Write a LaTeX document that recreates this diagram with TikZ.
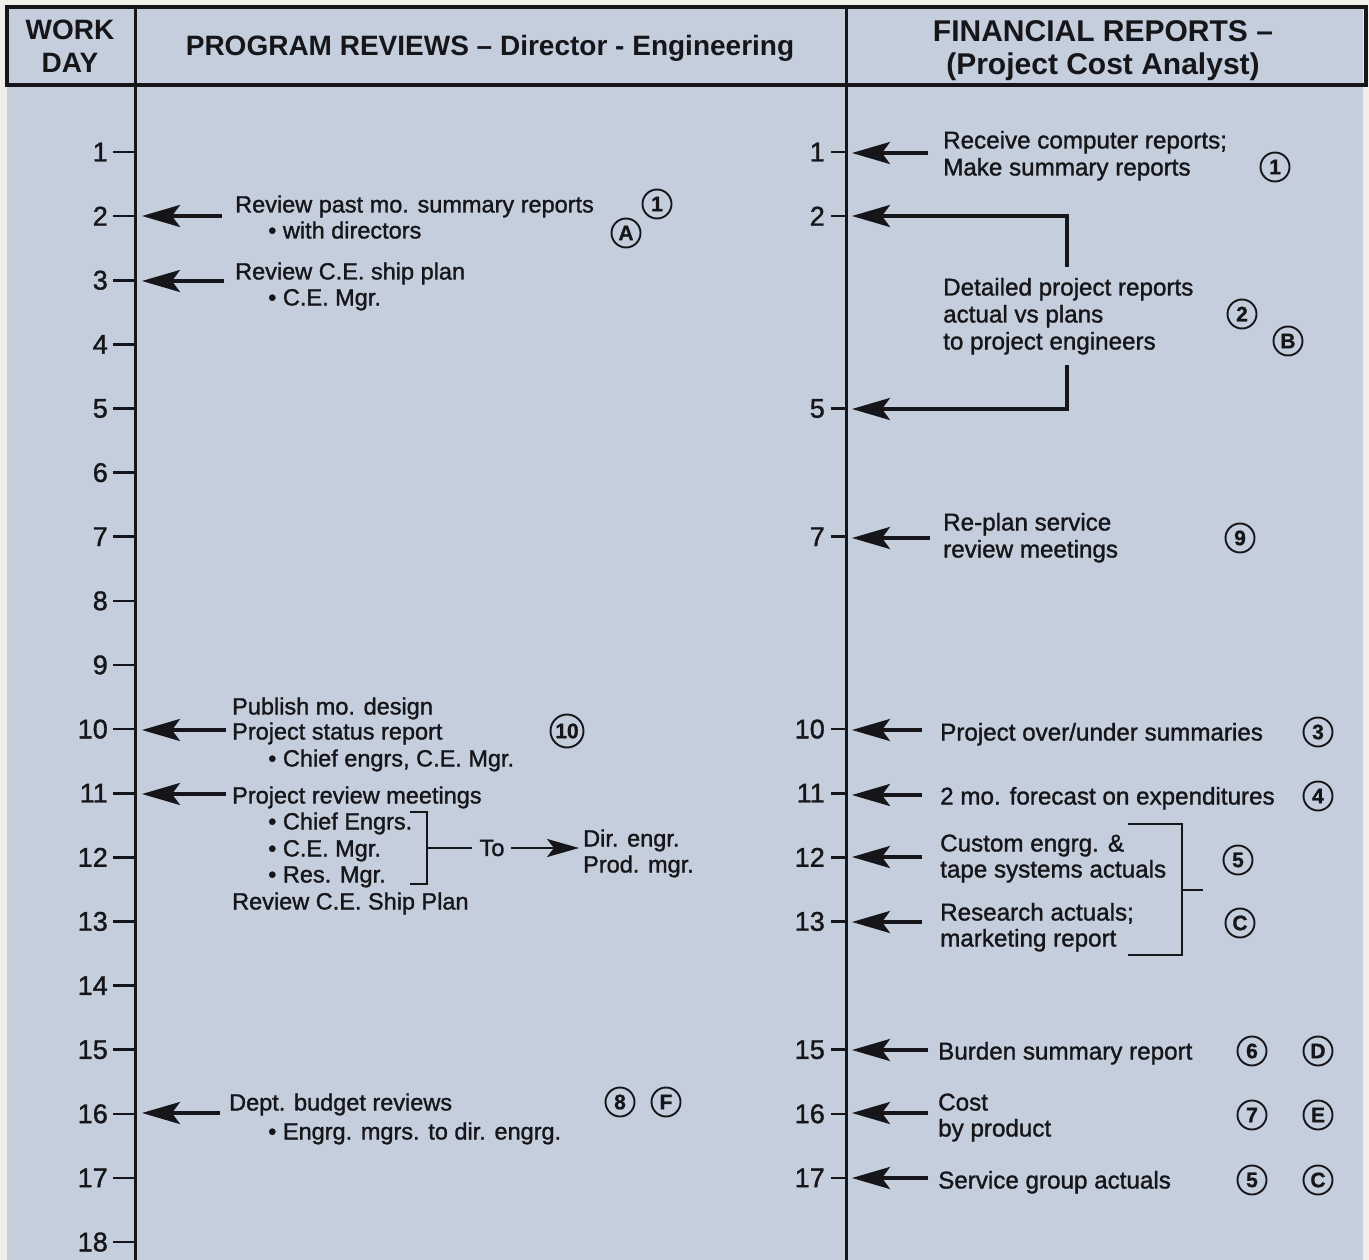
\documentclass[tikz,border=0pt]{standalone}
\usepackage{fontspec}
\setmainfont{Liberation Sans}
\newfontfamily\medfont[FakeBold=1.3]{Liberation Sans}
\newfontfamily\circfont[FakeBold=1.0]{Liberation Sans Bold}
\usetikzlibrary{arrows.meta}
\definecolor{bgblue}{RGB}{196,206,220}
\definecolor{paper}{RGB}{241,239,234}
\definecolor{ink}{RGB}{22,22,26}
\tikzset{
  hdr/.style={text=ink, align=center, inner sep=0pt, font=\bfseries\fontsize{28}{33}\selectfont},
  hdrwide/.style={hdr, font=\bfseries\fontsize{30}{33}\selectfont},
  body/.style={text=ink, inner sep=0pt, anchor=base west, font=\medfont\fontsize{23.5}{26}\selectfont},
  bodyr/.style={body, font=\medfont\fontsize{24.2}{26}\selectfont},
  daynum/.style={text=ink, inner sep=0pt, anchor=east, font=\medfont\fontsize{27}{27}\selectfont},
  circ/.style={circle, draw=ink, line width=1.9pt, minimum size=29pt, inner sep=0pt, text=ink, font=\circfont\fontsize{21}{21}\selectfont},
  circwide/.style={circ, minimum size=33pt},
  tick/.style={draw=ink, line width=2.6pt},
  rule/.style={draw=ink, line width=3pt},
  brk/.style={draw=ink, line width=2.4pt},
  arr/.style={draw=ink, line width=3.2pt, -{Stealth[length=38pt, width=22pt, inset=8pt]}},
  rarr/.style={draw=ink, line width=2.6pt, -{Stealth[length=32pt, width=18pt, inset=7pt]}},
}
\newcommand\tx[4]{\node[body] (#1) at (#2,#3+8.5) {#4};}
\newcommand\txr[4]{\node[bodyr] (#1) at (#2,#3+8.5) {#4};}
\begin{document}
\begin{tikzpicture}[x=1pt,y=-1pt]
\useasboundingbox (0,0) rectangle (1369,1260);
\fill[paper] (0,0) rectangle (1369,1260);
\fill[bgblue] (7,7) rectangle (1363,1260);
% header box and column rules
\draw[ink, line width=3.5pt] (7,7) rectangle (1366,85);
\draw[rule] (135,7) -- (135,1260);
\draw[rule] (846,7) -- (846,1260);
\node[hdr] (hwork) at (70,46) {WORK\\DAY};
\node[hdr] (hprog) at (490,48) {PROGRAM REVIEWS -- Director - Engineering};
\node[hdrwide] (hfin) at (1103,51) {FINANCIAL REPORTS --\\(Project Cost Analyst)};
% day scales
\foreach \n in {1,...,18}{
  \pgfmathsetmacro\yy{152+(\n-1)*64.12}
  \draw[tick] (113,\yy) -- (135,\yy);
  \node[daynum] (dl\n) at (108,\yy) {\n};
}
\foreach \n in {1,2,5,7,10,11,12,13,15,16,17}{
  \pgfmathsetmacro\yy{152+(\n-1)*64.12}
  \draw[tick] (831,\yy) -- (846,\yy);
  \node[daynum] (dr\n) at (825,\yy) {\n};
}
% ---------------- left column ----------------
\coordinate (aL2s) at (222,216); \coordinate (aL2e) at (142,216);
\draw[arr] (aL2s) -- (aL2e);
\tx{tL2a}{235}{204}{Review past mo. summary reports}
\tx{tL2b}{268}{230}{• with directors}
\node[circ] (cL1) at (657,204) {1};
\node[circ] (cLA) at (626,233) {A};

\coordinate (aL3s) at (224,281); \coordinate (aL3e) at (142,281);
\draw[arr] (aL3s) -- (aL3e);
\tx{tL3a}{235}{271}{Review C.E. ship plan}
\tx{tL3b}{268}{297}{• C.E. Mgr.}

\coordinate (aL10s) at (226,730); \coordinate (aL10e) at (142,730);
\draw[arr] (aL10s) -- (aL10e);
\tx{tL10a}{232}{706}{Publish mo. design}
\tx{tL10b}{232}{731}{Project status report}
\tx{tL10c}{268}{758}{• Chief engrs, C.E. Mgr.}
\node[circwide] (cL10) at (567,731) {10};

\coordinate (aL11s) at (226,794); \coordinate (aL11e) at (142,794);
\draw[arr] (aL11s) -- (aL11e);
\tx{tL11a}{232}{795}{Project review meetings}
\tx{tL11b}{268}{821}{• Chief Engrs.}
\tx{tL11c}{268}{848}{• C.E. Mgr.}
\tx{tL11d}{268}{874}{• Res. Mgr.}
\tx{tL11e}{232}{901}{Review C.E. Ship Plan}
\coordinate (bLt) at (410,812); \coordinate (bLb) at (410,884); \coordinate (bLm) at (427,848);
\draw[brk] (bLt) -- (427,812) -- (427,884) -- (bLb);
\node[body, anchor=center] (tTo) at (492,848) {To};
\draw[brk, shorten >=7pt] (bLm) -- (tTo.west);
\coordinate (aTos) at (511,848); \coordinate (aToe) at (579,848);
\draw[rarr] (aTos) -- (aToe);
\tx{tDir}{583}{838}{Dir. engr.}
\tx{tProd}{583}{864}{Prod. mgr.}

\coordinate (aL16s) at (220,1113); \coordinate (aL16e) at (142,1113);
\draw[arr] (aL16s) -- (aL16e);
\tx{tL16a}{229}{1102}{Dept. budget reviews}
\tx{tL16b}{268}{1131}{• Engrg. mgrs. to dir. engrg.}
\node[circ] (cL8) at (620,1102) {8};
\node[circ] (cLF) at (666,1102) {F};

% ---------------- right column ----------------
\coordinate (aR1s) at (928,153); \coordinate (aR1e) at (852,153);
\draw[arr] (aR1s) -- (aR1e);
\txr{tR1a}{943}{140}{Receive computer reports;}
\txr{tR1b}{943}{167}{Make summary reports}
\node[circ] (cR1) at (1275,167) {1};

\coordinate (aR2s) at (1067,267); \coordinate (aR2e) at (852,216);
\draw[arr] (aR2s) |- (aR2e);
\coordinate (aR5s) at (1067,365); \coordinate (aR5e) at (852,409);
\draw[arr] (aR5s) |- (aR5e);
\txr{tR2a}{943}{287}{Detailed project reports}
\txr{tR2b}{943}{314}{actual vs plans}
\txr{tR2c}{943}{341}{to project engineers}
\node[circ] (cR2) at (1242,314) {2};
\node[circ] (cRB) at (1288,341) {B};

\coordinate (aR7s) at (930,538); \coordinate (aR7e) at (852,538);
\draw[arr] (aR7s) -- (aR7e);
\txr{tR7a}{943}{522}{Re-plan service}
\txr{tR7b}{943}{549}{review meetings}
\node[circ] (cR9) at (1240,538) {9};

\coordinate (aR10s) at (922,730); \coordinate (aR10e) at (852,730);
\draw[arr] (aR10s) -- (aR10e);
\txr{tR10}{940}{732}{Project over/under summaries}
\node[circ] (cR3) at (1318,732) {3};

\coordinate (aR11s) at (922,795); \coordinate (aR11e) at (852,795);
\draw[arr] (aR11s) -- (aR11e);
\txr{tR11}{940}{796}{2 mo. forecast on expenditures}
\node[circ] (cR4) at (1318,796) {4};

\coordinate (aR12s) at (922,857); \coordinate (aR12e) at (852,857);
\draw[arr] (aR12s) -- (aR12e);
\txr{tR12a}{940}{843}{Custom engrg. \&}
\txr{tR12b}{940}{869}{tape systems actuals}
\node[circ] (cR5) at (1238,860) {5};

\coordinate (aR13s) at (922,922); \coordinate (aR13e) at (852,922);
\draw[arr] (aR13s) -- (aR13e);
\txr{tR13a}{940}{912}{Research actuals;}
\txr{tR13b}{940}{938}{marketing report}
\node[circ] (cRC) at (1240,923) {C};

\coordinate (bRt) at (1128,824); \coordinate (bRb) at (1128,955); \coordinate (bRm) at (1203,890);
\draw[brk] (bRt) -- (1182,824) -- (1182,955) -- (bRb);
\draw[brk] (1182,890) -- (bRm);

\coordinate (aR15s) at (928,1050); \coordinate (aR15e) at (852,1050);
\draw[arr] (aR15s) -- (aR15e);
\txr{tR15}{938}{1051}{Burden summary report}
\node[circ] (cR6) at (1252,1051) {6};
\node[circ] (cRD) at (1318,1051) {D};

\coordinate (aR16s) at (928,1113); \coordinate (aR16e) at (852,1113);
\draw[arr] (aR16s) -- (aR16e);
\txr{tR16a}{938}{1102}{Cost}
\txr{tR16b}{938}{1128}{by product}
\node[circ] (cR7) at (1252,1115) {7};
\node[circ] (cRE) at (1318,1115) {E};

\coordinate (aR17s) at (928,1178); \coordinate (aR17e) at (852,1178);
\draw[arr] (aR17s) -- (aR17e);
\txr{tR17}{938}{1180}{Service group actuals}
\node[circ] (cR5b) at (1252,1180) {5};
\node[circ] (cRC2) at (1318,1180) {C};
\end{tikzpicture}
\end{document}
